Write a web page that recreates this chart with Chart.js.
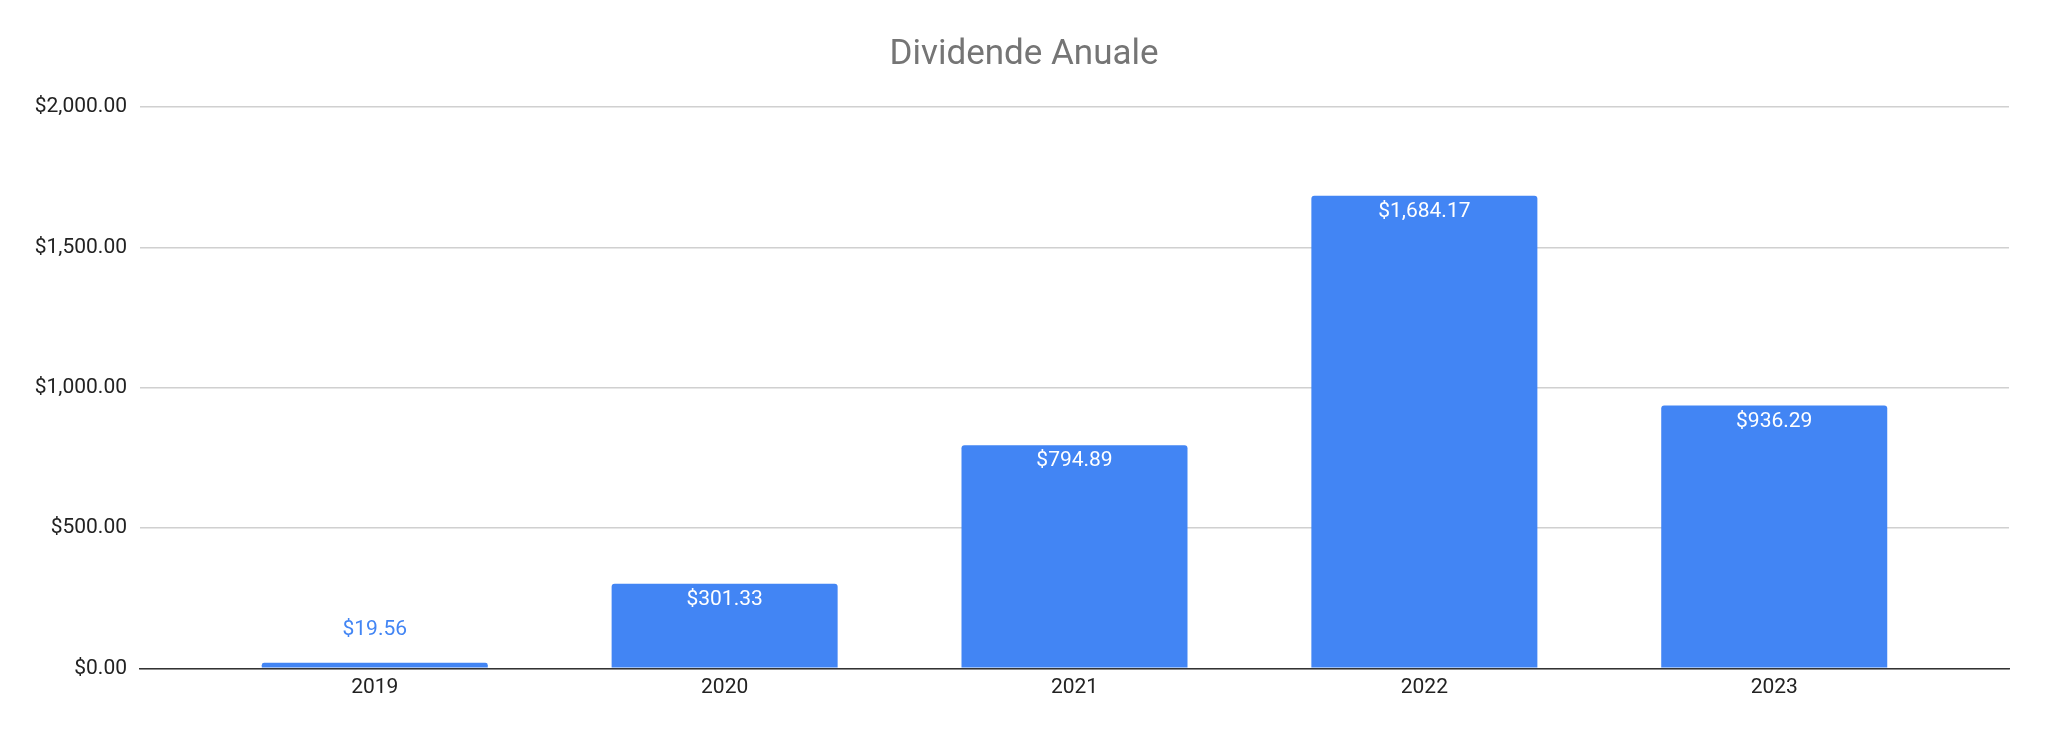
<!DOCTYPE html>
<html>
<head>
<meta charset="utf-8">
<script src="https://cdn.jsdelivr.net/npm/chart.js@4"></script>
<style>
  html, body { margin: 0; padding: 0; background: #fff; }
  canvas { display: block; }
</style>
</head>
<body>
<canvas id="graphCanvas" width="2048" height="734"></canvas>
<script>
// data
var years = ['2019', '2020', '2021', '2022', '2023'];
var dividends = [19.56, 301.33, 794.89, 1684.17, 936.29];
var yTicks = [0, 500, 1000, 1500, 2000];

var blue = '#4285F4';

function money(v) {
    return '$' + v.toLocaleString('en-US', { minimumFractionDigits: 2, maximumFractionDigits: 2 });
}

// value labels on top of the bars (white inside, blue above when the bar is too short)
var barLabels = {
    id: 'barLabels',
    afterLayout: function (chart) {
        // centre the title on the whole canvas, not on the padded area
        chart.titleBlock.left = 0;
        chart.titleBlock.right = chart.width;
    },
    afterDatasetsDraw: function (chart) {
        var ctx = chart.ctx;
        var meta = chart.getDatasetMeta(0);
        ctx.save();
        ctx.font = '21px Roboto';
        ctx.textAlign = 'center';
        ctx.textBaseline = 'middle';
        meta.data.forEach(function (bar, i) {
            var h = bar.base - bar.y;
            var txt = money(dividends[i]);
            if (h > 40) {
                ctx.fillStyle = '#ffffff';
                ctx.fillText(txt, bar.x, bar.y + 16);
            } else {
                ctx.fillStyle = blue;
                ctx.fillText(txt, bar.x, bar.y - 33);
            }
        });
        ctx.restore();
    }
};

var chartdata = {
    datasets: [
        {
            label: 'Dividende',
            backgroundColor: blue,
            borderRadius: 3,
            borderSkipped: 'bottom',
            barPercentage: 0.646,
            categoryPercentage: 1,
            data: dividends.map(function (v, i) { return { x: i, y: v }; })
        }
    ]
};

var graphTarget = document.getElementById('graphCanvas');

var barGraph = new Chart(graphTarget, {
    type: 'bar',
    data: chartdata,
    plugins: [barLabels],
    options: {
        responsive: false,
        devicePixelRatio: 1,
        animation: false,
        layout: { padding: { top: 34, right: 39, bottom: 26.5, left: 0 } },
        plugins: {
            legend: { display: false },
            tooltip: { enabled: false },
            title: {
                display: true,
                text: 'Dividende Anuale',
                color: '#757575',
                font: { family: 'Roboto', size: 35, weight: 'normal' },
                padding: { top: 0, bottom: 31 }
            }
        },
        scales: {
            x: {
                type: 'linear',
                bounds: 'data',
                offset: false,
                min: -0.671,
                max: 4.671,
                afterBuildTicks: function (scale) {
                    scale.ticks = years.map(function (y, i) { return { value: i }; });
                },
                grid: { display: false, drawTicks: false },
                border: { display: true, color: '#333333', width: 1.5 },
                ticks: {
                    color: '#222222',
                    padding: 7,
                    font: { family: 'Roboto', size: 21 },
                    callback: function (v) { return years[v]; }
                }
            },
            y: {
                min: 0,
                max: 2000,
                afterBuildTicks: function (scale) {
                    scale.ticks = yTicks.map(function (v) { return { value: v }; });
                },
                afterFit: function (scale) { scale.width = 140; },
                grid: { color: '#d0d0d0', lineWidth: 1.5, drawTicks: false },
                border: { display: false },
                ticks: {
                    color: '#222222',
                    padding: 13,
                    font: { family: 'Roboto', size: 21 },
                    callback: function (v) { return money(v); }
                }
            }
        }
    }
});
</script>
</body>
</html>
